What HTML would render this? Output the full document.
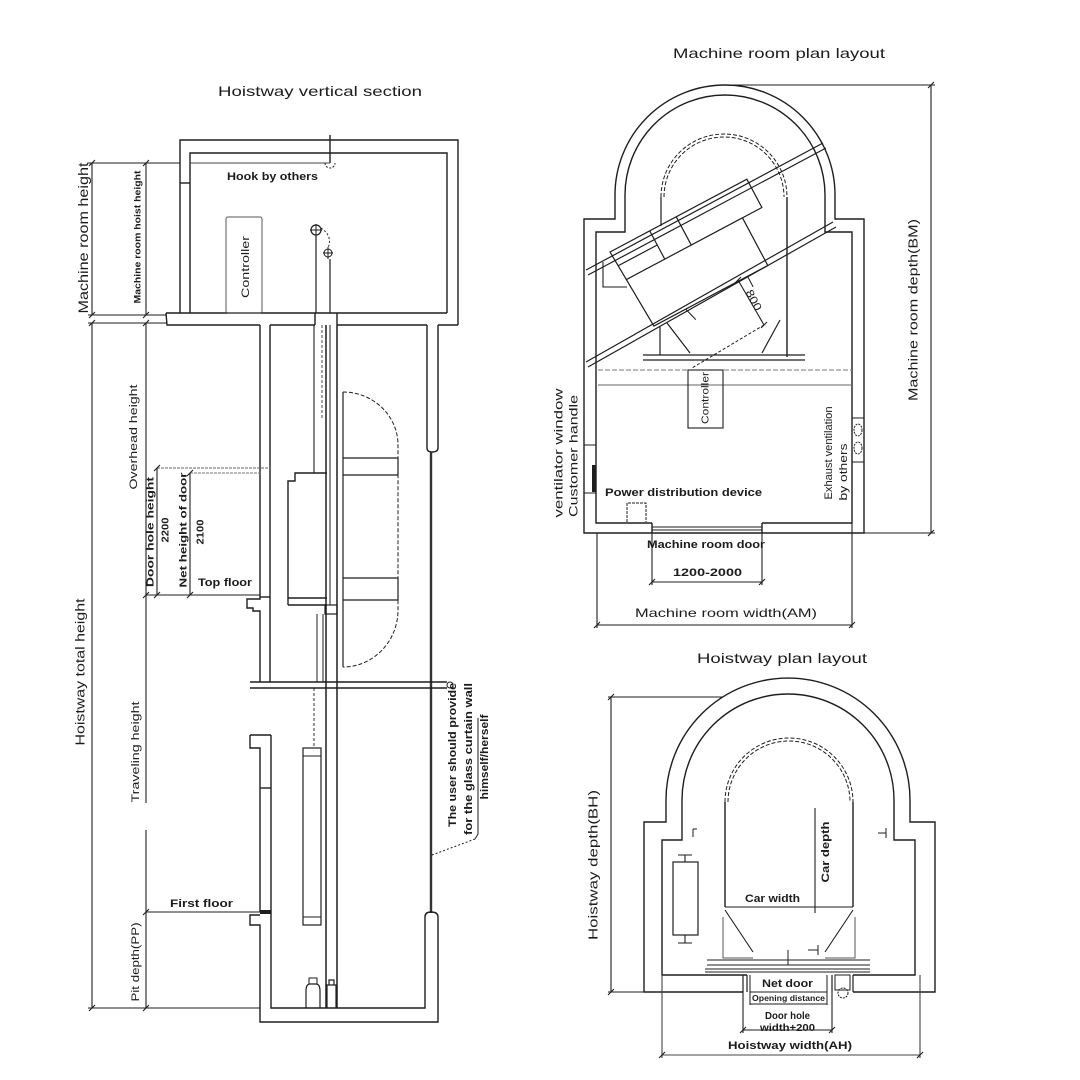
<!DOCTYPE html>
<html><head><meta charset="utf-8">
<style>
html,body{margin:0;padding:0;background:#fff;}
svg{display:block;}
text{font-family:"Liberation Sans",Arial,sans-serif;fill:#1c1c1c;}
.b{font-weight:bold;}
</style></head><body>
<svg width="1080" height="1080" viewBox="0 0 1080 1080" xmlns="http://www.w3.org/2000/svg">
<rect width="1080" height="1080" fill="#fff"/>
<g fill="none" stroke="#1e1e1e" stroke-width="1.4" stroke-linejoin="miter">
<!-- ===== LEFT: Hoistway vertical section ===== -->
<!-- machine room -->
<path d="M180,313 V140 H458 V325"/>
<path d="M190,313 V153 H447 V313"/>
<path d="M180,183 H190"/>
<path d="M166,313 H447"/>
<path d="M166,313 L167,325 H260 M270,325 H315 M337,325 H427 M438,325 H458"/>
<path d="M315,313 V325 M337,313 V325"/>
<!-- hook -->
<path d="M330,135 V163"/>
<path d="M190,163 H330" stroke-width="1" stroke="#444"/>
<path d="M325,163 A5,5 0 0 0 335,163" stroke-width="1" stroke-dasharray="2,1.5"/>
<!-- controller -->
<rect x="226" y="217" width="36" height="96" rx="2" stroke="#555" stroke-width="1"/>
<!-- motor symbols -->
<circle cx="316" cy="230" r="5" stroke-width="1.2"/>
<path d="M310,230 H322 M316,224 V236" stroke-width="1"/>
<path d="M316,236 V313" stroke-width="1.2"/>
<path d="M321,228 Q333,236 328,248" stroke-width="1" stroke-dasharray="2,2"/>
<circle cx="328" cy="253" r="4" stroke-width="1"/>
<path d="M323,253 H333 M328,247 V259" stroke-width="1"/>
<path d="M330,259 V313" stroke-width="1.2"/>
<!-- hoistway walls -->
<path d="M260,325 V599 H247 V608 H253 V611 H260 V682"/>
<path d="M270,325 V682"/>
<path d="M260,597 H270"/>
<path d="M157,468 H270" stroke="#666" stroke-width="1" stroke-dasharray="3,1"/>
<path d="M190,473 H262" stroke="#777" stroke-width="1" stroke-dasharray="3,1"/>
<path d="M427,325 V448 Q427,452 432,452 Q438,452 438,448 V325"/>
<path d="M431,452 V913" stroke-width="2.4" stroke="#333"/>
<!-- intermediate floor -->
<path d="M250,682 H447 M250,688 H447"/>
<circle cx="450" cy="685" r="3" stroke-width="1"/>
<!-- lower walls -->
<path d="M250,735 H271 M250,735 V748 H260 V912"/>
<path d="M271,735 V1008 H425 V917 Q425,912 431,912 Q438,912 438,917 V1022 H260 V925 H250 V915 H260"/>
<path d="M260,788 H271"/>
<rect x="260" y="910" width="11" height="4" fill="#1e1e1e" stroke="none"/>
<!-- rails / ropes -->
<path d="M326,325 V1008 M337,325 V1008" stroke-width="1.5"/>
<path d="M330,325 V605" stroke-width="1"/>
<rect x="325" y="605" width="12" height="9" stroke-width="1.2"/>
<path d="M314,325 V473" stroke-width="1.1"/>
<path d="M322,325 V420" stroke-width="0.8" stroke-dasharray="3,2"/>
<path d="M317,614 V682 M323,614 V682" stroke-width="1"/>
<path d="M314,688 V748" stroke-width="0.9" stroke-dasharray="3,2"/>
<!-- car -->
<path d="M288,605 V481 H295 V473 H327"/>
<path d="M288,605 H327 M288,598 H327"/>
<!-- capsule -->
<path d="M343,392 V667" stroke-width="1.2"/>
<path d="M343,392 A55,53 0 0 1 398,445 V610 A55,57 0 0 1 343,667" stroke-width="1" stroke-dasharray="4,2"/>
<path d="M343,458 H398 V475 H343 M343,578 H398 V600 H343" stroke-width="1.2"/>
<!-- counterweight -->
<rect x="303" y="748" width="18" height="177" stroke-width="1.2"/>
<path d="M303,756 H321 M303,917 H321" stroke-width="1"/>
<!-- buffers -->
<path d="M306,1008 V991 Q306,984 310,984 H316 Q320,984 320,991 V1008" stroke-width="1.2"/>
<path d="M309,984 V978 H317 V984" stroke-width="1"/>
<path d="M327,1008 V985 H336 V1008 M329,985 V980 H334 V985" stroke-width="1.2"/>
<!-- dimensions left -->
<g stroke-width="1.1">
<path d="M92,163 V315 M92,323 V1008"/>
<path d="M88,163 H180 M88,315 H166 M88,323 H167 M88,1008 H260"/>
<path d="M146,163 V315 M146,323 V803 M146,830 V1008"/>
<path d="M146,595 H260 M146,912 H260"/>
<path d="M157,468 V595 M190,473 V595"/>
<path d="M89,166 L95,160 M89,318 L95,312 M89,326 L95,320 M89,1011 L95,1005 M143,166 L149,160 M143,318 L149,312 M143,326 L149,320 M143,598 L149,592 M143,915 L149,909 M143,1011 L149,1005 M154,471 L160,465 M154,598 L160,592 M187,476 L193,470 M187,598 L193,592"/>
</g>
<!-- glass note leader -->
<path d="M478,718 V834 L475,839" stroke-width="1"/>
<path d="M475,839 L432,855" stroke-width="1" stroke-dasharray="2,2"/>

<!-- ===== Machine room plan layout ===== -->
<path d="M584,533 V219 H615 V195 A110,110 0 0 1 835,195 V219 H864 V533 Z"/>
<path d="M652,523 H596 V232 H625 V195 A100,100 0 0 1 825,195 V232 H852 V523 H762"/>
<path d="M652,523 V533 M762,523 V533"/>
<path d="M652,527 H762 M652,530 H762" stroke-width="0.9"/>
<!-- beams -->
<path d="M586,270 L823,143 M588,275 L826,148" stroke-width="1.2"/>
<path d="M586,362 L833,222 M588,367 L836,227" stroke-width="1.2"/>
<!-- inner car arc -->
<path d="M661,197 A63,63 0 0 1 787,197" stroke-width="1" stroke-dasharray="4,2"/>
<path d="M664,197 A60,60 0 0 1 784,197" stroke-width="1" stroke-dasharray="4,2"/>
<path d="M661,197 V226" stroke-width="1.2"/>
<path d="M787,197 V357" stroke-width="1.4"/>
<!-- machine -->
<g transform="translate(610,252) rotate(-28)" stroke-width="1.2">
<path d="M0,0 H155 V32 H133 V86 H4 Z"/>
<path d="M1,32 H133 M45,0 V32 M75,0 V32 M1,16 H45"/>
<path d="M40,86 L44,100 M110,86 V98" stroke-width="1"/>
</g>
<path d="M603,262 V287 H627" stroke-width="1.1"/>
<!-- brackets -->
<path d="M643,355 H805 M643,360 H805" stroke-width="1.2"/>
<path d="M660,327 V355 M667,323 L690,353 M780,320 L762,353" stroke-width="1.2"/>
<!-- 800 dim -->
<path d="M738,280 L764,325" stroke-width="1.1"/>
<path d="M735,283 L741,277 M761,328 L767,322" stroke-width="1.1"/>
<path d="M764,325 L692,368" stroke-width="1" stroke-dasharray="3,2"/>
<!-- horizontal lines -->
<path d="M598,370 H852" stroke="#777" stroke-width="1" stroke-dasharray="5,2"/>
<path d="M598,385 H852" stroke="#666" stroke-width="1"/>
<rect x="688" y="370" width="35" height="58" stroke-width="1.1"/>
<!-- ventilator window -->
<path d="M584,445 H596 M584,493 H596" stroke-width="1"/>
<rect x="592" y="465" width="4" height="27" fill="#1e1e1e" stroke="none"/>
<!-- exhaust -->
<path d="M852,418 H864 M852,462 H864" stroke-width="1"/>
<ellipse cx="858" cy="430" rx="4" ry="6" stroke-width="1" stroke-dasharray="2,1"/>
<ellipse cx="858" cy="448" rx="4" ry="6" stroke-width="1" stroke-dasharray="2,1"/>
<!-- power distribution box -->
<path d="M627,522 V503 H646 V522" stroke-width="1" stroke-dasharray="3,1"/>
<!-- dims -->
<g stroke-width="1.1">
<path d="M931,85 V533 M725,85 H935 M864,533 H935"/>
<path d="M928,88 L934,82 M928,536 L934,530"/>
<path d="M597,533 V628 M852,523 V628 M597,625 H852"/>
<path d="M594,628 L600,622 M849,628 L855,622"/>
<path d="M652,533 V585 M762,533 V585 M652,582 H762"/>
<path d="M649,585 L655,579 M759,585 L765,579"/>
</g>

<!-- ===== Hoistway plan layout ===== -->
<path d="M743,992 H644 V822 H666 V800 A122,122 0 0 1 910,800 V822 H935 V992 H853"/>
<path d="M747,975 H662 V840 H682 V800 A106,106 0 0 1 894,800 V840 H915 V975 H853"/>
<path d="M743,975 V992 M747,975 V992 M832,975 V992 M853,975 V992" stroke-width="1.2"/>
<rect x="835" y="975" width="15" height="15" stroke-width="1"/>
<circle cx="843" cy="993" r="5" stroke-width="1" stroke-dasharray="2,1"/>
<!-- car -->
<path d="M725,802 A64,64 0 0 1 853,802" stroke-width="1" stroke-dasharray="4,2"/>
<path d="M728,802 A61,61 0 0 1 850,802" stroke-width="1" stroke-dasharray="4,2"/>
<path d="M725,802 V907 M853,802 V907"/>
<path d="M725,907 H853" stroke-width="1.1"/>
<path d="M815,808 V913" stroke-width="1.1"/>
<path d="M725,910 L753,952 M853,910 L825,952" stroke-width="1.1"/>
<path d="M723,917 V958 H753 M855,917 V958 H825" stroke="#555" stroke-width="1"/>
<path d="M707,960 H870 M707,965 H870" stroke-width="1.1"/>
<path d="M788,950 V965" stroke-width="1"/>
<path d="M705,969 H870 M705,972 H870" stroke-width="1"/>
<path d="M808,950 H818 M818,945 V955" stroke-width="1"/>
<path d="M693,829 V837 M693,829 H697" stroke-width="1"/>
<path d="M878,833 H886 M886,828 V838" stroke-width="1"/>
<!-- counterweight -->
<rect x="673" y="862" width="25" height="73" stroke-width="1.2"/>
<path d="M685,855 V862 M678,855 H692 M685,935 V943 M678,943 H692" stroke-width="1.1"/>
<!-- door box -->
<path d="M750,975 V1005 M827,975 V1005" stroke-width="1"/>
<rect x="750" y="992" width="77" height="12" stroke-width="1"/>
<g stroke-width="1.1">
<path d="M743,992 V1033 M832,992 V1033 M743,1030 H832"/>
<path d="M740,1033 L746,1027 M829,1033 L835,1027"/>
<path d="M662,975 V1058 M920,975 V1058 M662,1055 H920" stroke="#444"/>
<path d="M659,1058 L665,1052 M917,1058 L923,1052"/>
<path d="M611,697 V992 M608,697 H723 M608,992 H644"/>
<path d="M608,700 L614,694 M608,995 L614,989"/>
</g>
</g>

<!-- ===== TEXT ===== -->
<text x="218" y="96" font-size="14" textLength="204" lengthAdjust="spacingAndGlyphs">Hoistway vertical section</text>
<text x="673" y="58" font-size="14" textLength="212" lengthAdjust="spacingAndGlyphs">Machine room plan layout</text>
<text x="697" y="663" font-size="14" textLength="170" lengthAdjust="spacingAndGlyphs">Hoistway plan layout</text>

<text class="b" x="227" y="180" font-size="11" textLength="91" lengthAdjust="spacingAndGlyphs">Hook by others</text>
<text class="b" x="198" y="586" font-size="11" textLength="54" lengthAdjust="spacingAndGlyphs">Top floor</text>
<text class="b" x="170" y="907" font-size="11" textLength="63" lengthAdjust="spacingAndGlyphs">First floor</text>
<text class="b" x="605" y="496" font-size="11" textLength="157" lengthAdjust="spacingAndGlyphs">Power distribution device</text>
<text class="b" x="647" y="548" font-size="11" textLength="118" lengthAdjust="spacingAndGlyphs">Machine room door</text>
<text class="b" x="673" y="576" font-size="11" textLength="69" lengthAdjust="spacingAndGlyphs">1200-2000</text>
<text x="635" y="617" font-size="12" textLength="182" lengthAdjust="spacingAndGlyphs">Machine room width(AM)</text>
<text class="b" x="745" y="902" font-size="11" textLength="55" lengthAdjust="spacingAndGlyphs">Car width</text>
<text class="b" x="762" y="987" font-size="11" textLength="51" lengthAdjust="spacingAndGlyphs">Net door</text>
<text class="b" x="752" y="1001" font-size="8" textLength="73" lengthAdjust="spacingAndGlyphs">Opening distance</text>
<text class="b" x="765" y="1019" font-size="10" textLength="45" lengthAdjust="spacingAndGlyphs">Door hole</text>
<text class="b" x="760" y="1031" font-size="10" textLength="55" lengthAdjust="spacingAndGlyphs">width+200</text>
<text class="b" x="728" y="1049" font-size="11" textLength="124" lengthAdjust="spacingAndGlyphs">Hoistway width(AH)</text>

<g text-anchor="middle">
<text transform="translate(83,238) rotate(-90)" dy="0.36em" font-size="14" textLength="151" lengthAdjust="spacingAndGlyphs">Machine room height</text>
<text class="b" transform="translate(137,237) rotate(-90)" dy="0.36em" font-size="9" textLength="133" lengthAdjust="spacingAndGlyphs">Machine room hoist height</text>
<text transform="translate(245,267) rotate(-90)" dy="0.36em" font-size="11" textLength="62" lengthAdjust="spacingAndGlyphs">Controller</text>
<text transform="translate(133,437) rotate(-90)" dy="0.36em" font-size="11" textLength="105" lengthAdjust="spacingAndGlyphs">Overhead height</text>
<text class="b" transform="translate(150,532) rotate(-90)" dy="0.36em" font-size="10" textLength="110" lengthAdjust="spacingAndGlyphs">Door hole height</text>
<text class="b" transform="translate(165,530) rotate(-90)" dy="0.36em" font-size="10" textLength="25" lengthAdjust="spacingAndGlyphs">2200</text>
<text class="b" transform="translate(183,530) rotate(-90)" dy="0.36em" font-size="10" textLength="115" lengthAdjust="spacingAndGlyphs">Net height of door</text>
<text class="b" transform="translate(200,532) rotate(-90)" dy="0.36em" font-size="10" textLength="25" lengthAdjust="spacingAndGlyphs">2100</text>
<text transform="translate(80,672) rotate(-90)" dy="0.36em" font-size="13" textLength="147" lengthAdjust="spacingAndGlyphs">Hoistway total height</text>
<text transform="translate(135,752) rotate(-90)" dy="0.36em" font-size="11" textLength="101" lengthAdjust="spacingAndGlyphs">Traveling height</text>
<text transform="translate(135,962) rotate(-90)" dy="0.36em" font-size="11" textLength="79" lengthAdjust="spacingAndGlyphs">Pit depth(PP)</text>
<text class="b" transform="translate(452,755) rotate(-90)" dy="0.36em" font-size="11" textLength="144" lengthAdjust="spacingAndGlyphs">The user should provide</text>
<text class="b" transform="translate(468,759) rotate(-90)" dy="0.36em" font-size="11" textLength="152" lengthAdjust="spacingAndGlyphs">for the glass curtain wall</text>
<text class="b" transform="translate(484,757) rotate(-90)" dy="0.36em" font-size="11" textLength="85" lengthAdjust="spacingAndGlyphs">himself/herself</text>
<text transform="translate(913,310) rotate(-90)" dy="0.36em" font-size="13" textLength="182" lengthAdjust="spacingAndGlyphs">Machine room depth(BM)</text>
<text transform="translate(705,398) rotate(-90)" dy="0.36em" font-size="10" textLength="52" lengthAdjust="spacingAndGlyphs">Controller</text>
<text transform="translate(558,453) rotate(-90)" dy="0.36em" font-size="12" textLength="129" lengthAdjust="spacingAndGlyphs">ventilator window</text>
<text transform="translate(573,456) rotate(-90)" dy="0.36em" font-size="12" textLength="122" lengthAdjust="spacingAndGlyphs">Customer handle</text>
<text transform="translate(828,453) rotate(-90)" dy="0.36em" font-size="11" textLength="93" lengthAdjust="spacingAndGlyphs">Exhaust ventilation</text>
<text transform="translate(843,472) rotate(-90)" dy="0.36em" font-size="11" textLength="57" lengthAdjust="spacingAndGlyphs">by others</text>
<text transform="translate(593,865) rotate(-90)" dy="0.36em" font-size="13" textLength="150" lengthAdjust="spacingAndGlyphs">Hoistway depth(BH)</text>
<text class="b" transform="translate(825,852) rotate(-90)" dy="0.36em" font-size="11" textLength="61" lengthAdjust="spacingAndGlyphs">Car depth</text>
<text transform="translate(754,300) rotate(62)" dy="0.36em" font-size="11" textLength="22" lengthAdjust="spacingAndGlyphs">800</text>
</g>
</svg>
</body></html>
